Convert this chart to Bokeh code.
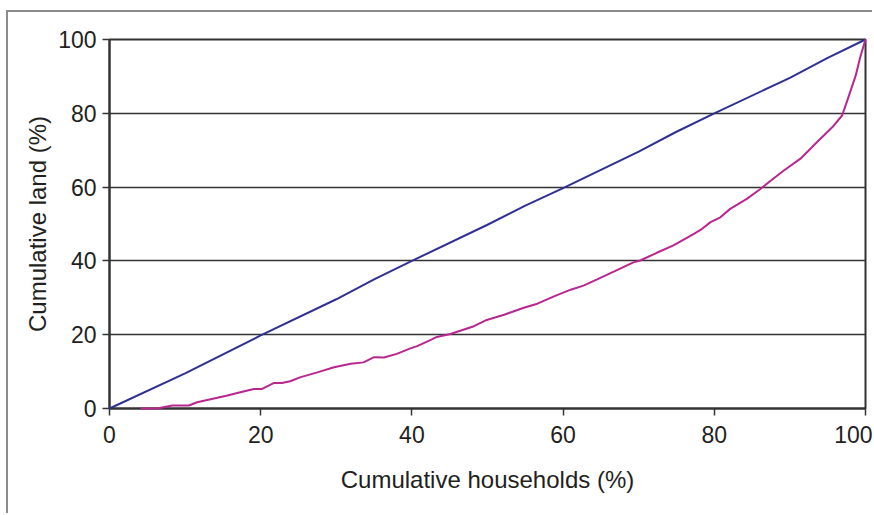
from bokeh.plotting import figure
from bokeh.models import FixedTicker, Range1d
from bokeh.embed import file_html
from bokeh.resources import INLINE

# Line of equality (cumulative households vs cumulative land)
equality_x = [0, 10, 20, 30, 35, 40, 50, 55, 60, 70, 75, 80, 90, 95, 100]
equality_y = [0, 9.5, 19.8, 29.6, 35, 40, 49.8, 55, 59.7, 69.6, 75, 80, 89.6, 95, 100]

# Lorenz curve
lorenz_x = [4.1, 6.3, 8.3, 10.5, 11.6, 15.6, 17.3, 19.1, 20.2, 21.7, 22.8, 23.9, 25.3,
            27.5, 29.7, 31.9, 33.6, 35.0, 36.3, 38.0, 39.8, 40.7, 42.5, 43.3, 45.1,
            48.2, 49.9, 52.2, 54.8, 56.6, 58.8, 61.0, 62.7, 64.5, 66.7, 69.3, 70.2,
            72.4, 74.6, 77.3, 78.4, 79.5, 80.8, 82.1, 84.3, 86.1, 87.2, 89.2, 91.4,
            93.6, 95.6, 96.9, 97.6, 98.7, 99.3, 100]
lorenz_y = [0, 0, 0.8, 0.8, 1.7, 3.5, 4.4, 5.3, 5.3, 6.9, 6.9, 7.4, 8.5,
            9.8, 11.2, 12.1, 12.5, 13.9, 13.8, 14.8, 16.3, 16.9, 18.6, 19.4, 20.2,
            22.3, 24.0, 25.4, 27.3, 28.4, 30.4, 32.2, 33.3, 35.0, 37.1, 39.6, 40.1,
            42.2, 44.2, 47.3, 48.7, 50.5, 51.8, 54.1, 56.8, 59.5, 61.3, 64.5, 67.7,
            72.2, 76.2, 79.4, 83.5, 90.2, 95.2, 100]

ticks = [0, 20, 40, 60, 80, 100]

W, H = 866, 503
p = figure(width=W, height=H, output_backend="svg", toolbar_location=None,
           x_range=Range1d(0, 100), y_range=Range1d(0, 100),
           min_border_left=101, min_border_top=27,
           min_border_right=W - 857, min_border_bottom=H - 396,
           styles={"border-top": "2px solid #8c8c8c", "border-left": "2px solid #8c8c8c",
                   "margin-left": "6px", "margin-top": "10px"})

r1 = p.line(equality_x, equality_y, line_color="#2E3192", line_width=2)
r2 = p.line(lorenz_x, lorenz_y, line_color="#B8268F", line_width=2)
r1.level = "overlay"
r2.level = "overlay"

p.outline_line_color = "#333333"
p.outline_line_width = 2
p.xgrid.visible = False
p.ygrid.ticker = FixedTicker(ticks=[20, 40, 60, 80])
p.ygrid.grid_line_color = "#333333"
p.ygrid.grid_line_width = 1.3

for ax in (p.xaxis[0], p.yaxis[0]):
    ax.ticker = FixedTicker(ticks=ticks)
    ax.axis_line_color = "#333333"
    ax.axis_line_width = 2
    ax.major_tick_line_color = "#333333"
    ax.major_tick_line_width = 1.5
    ax.major_tick_out = 7
    ax.major_tick_in = 0
    ax.minor_tick_line_color = None
    ax.major_label_text_font = "Liberation Sans"
    ax.major_label_text_font_size = "23px"
    ax.major_label_text_color = "#231f20"
    ax.axis_label_text_font = "Liberation Sans"
    ax.axis_label_text_font_size = "24px"
    ax.axis_label_text_font_style = "normal"
    ax.axis_label_text_color = "#231f20"

p.xaxis.axis_label = "Cumulative households (%)"
p.yaxis.axis_label = "Cumulative land (%)"
p.xaxis.major_label_standoff = 10
p.yaxis.major_label_standoff = 6
p.xaxis.axis_label_standoff = 20
p.yaxis.axis_label_standoff = 4

open("out.html", "w").write(file_html(p, INLINE))
